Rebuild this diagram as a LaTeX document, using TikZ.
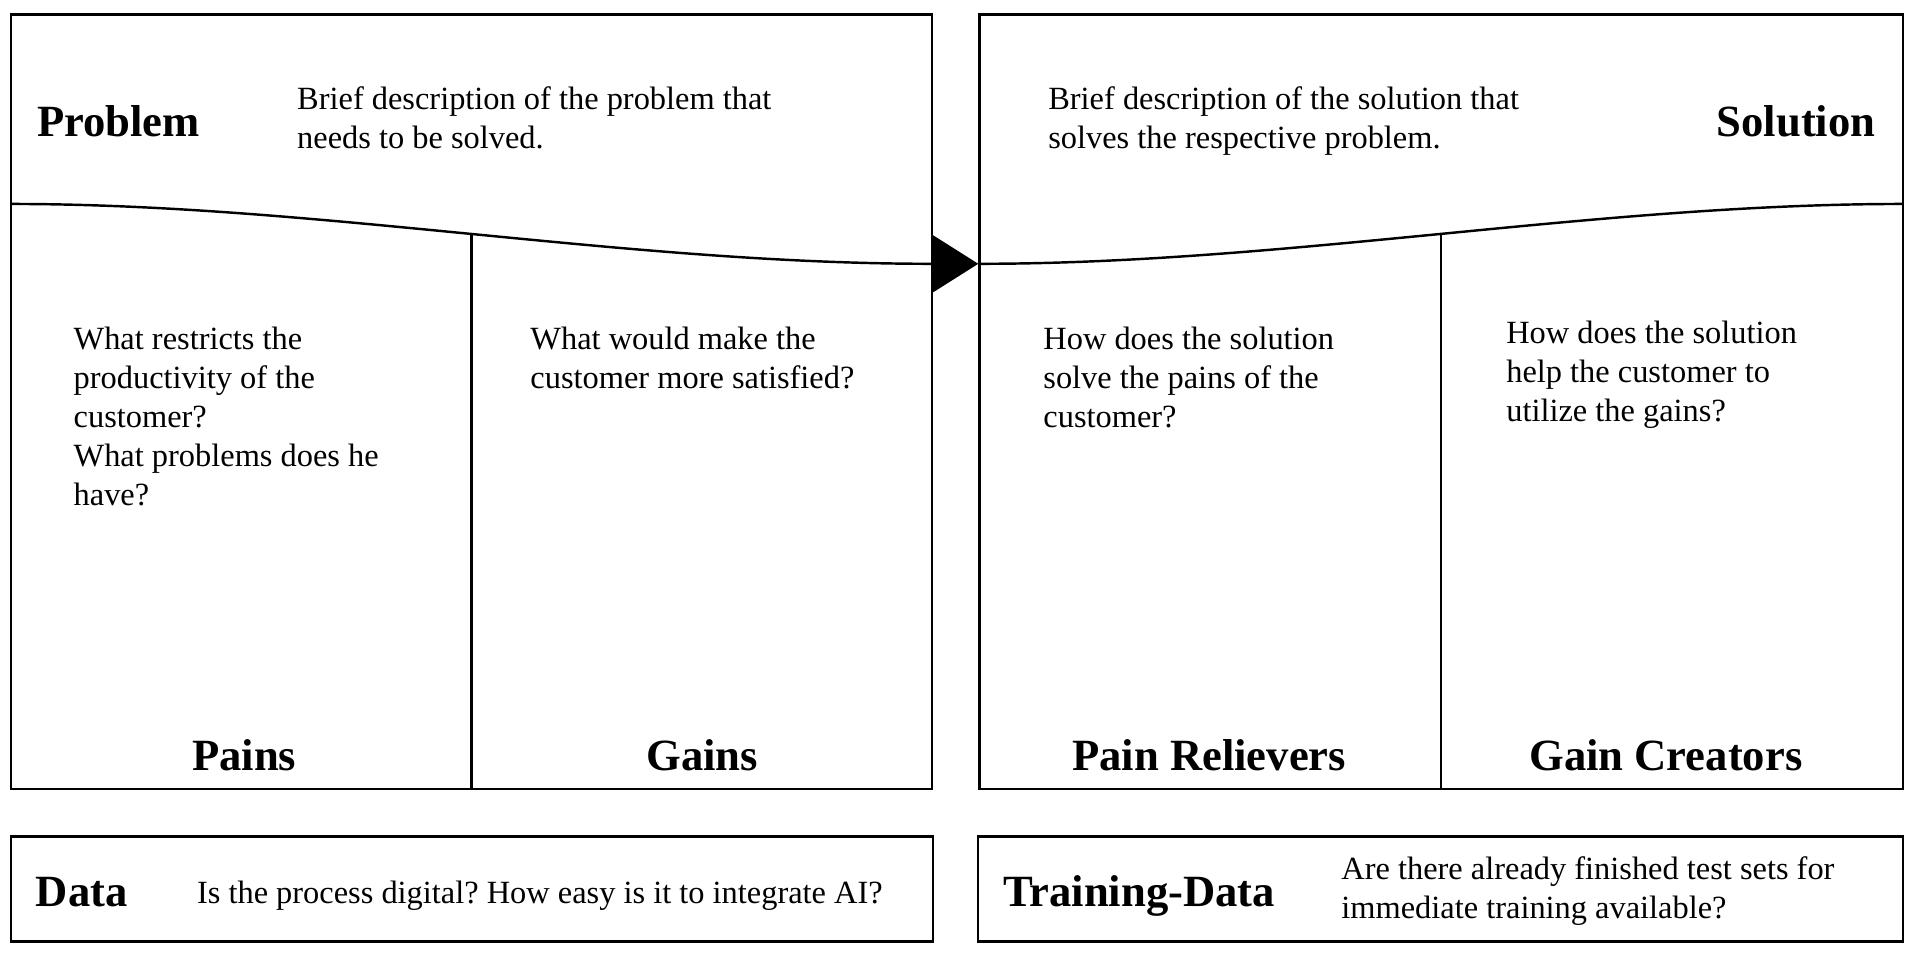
\documentclass[tikz,border=0pt]{standalone}
\usepackage{fontspec}
\setmainfont{Liberation Serif}
\frenchspacing
\tikzset{
  canvas/.style={line width=0.4mm},
  headline/.style={font=\fontsize{20.8}{25}\selectfont\bfseries, inner sep=0pt},
  question/.style={font=\fontsize{15.1}{18.2}\selectfont, align=left, inner sep=0pt, anchor=base west},
}

\begin{document}
\begin{tikzpicture}[x=0.02cm, y=-0.02cm]
		%%%%% START %%%%%
		\useasboundingbox (0, 0) rectangle (1568, 788.5);
		
		% problem side
		\draw[canvas] (9, 12) rectangle (763, 646);
		\draw[canvas] (9, 167) .. controls (260, 167) and (510, 216) .. (763, 216);
		\draw[canvas] (386, 191.5) -- (386, 646);
		
		% solution side
		\draw[canvas] (802, 12) rectangle (1558, 646);
		\draw[canvas] (802, 216) .. controls (1055, 216) and (1305, 167) .. (1558, 167);
		\draw[canvas] (1180, 191.5) -- (1180, 646);
		
		\fill (763, 192) -- (801, 216) -- (763, 240) -- cycle;
		
		% text nodes sit on the baseline of their last line
		\node[headline, anchor=base west] (problem) at (30, 112) {Problem};
		\node[question] (problemtext) at (243, 122) {Brief description of the problem that\\needs to be solved.};
		\node[headline, anchor=base east] (solution) at (1536, 112) {Solution};
		\node[question] (solutiontext) at (858, 122) {Brief description of the solution that\\solves the respective problem.};
		
		\node[question] (painstext) at (60, 414) {What restricts the\\productivity of the\\customer?\\What problems does he\\have?};
		\node[question] (gainstext) at (434, 318) {What would make the\\customer more satisfied?};
		\node[question] (relieverstext) at (854, 350) {How does the solution\\solve the pains of the\\customer?};
		\node[question] (creatorstext) at (1233, 345) {How does the solution\\help the customer to\\utilize the gains?};
		
		\node[headline, anchor=base] (pains) at (200, 630.5) {Pains};
		\node[headline, anchor=base] (gains) at (575, 630.5) {Gains};
		\node[headline, anchor=base] (relievers) at (990, 630.5) {Pain Relievers};
		\node[headline, anchor=base] (creators) at (1364, 630.5) {Gain Creators};
		
		% data boxes
		\draw[canvas] (9, 685) rectangle (764, 771);
		\node[headline, anchor=base west] (data) at (29, 742) {Data};
		\node[question] (datatext) at (161, 740) {Is the process digital? How easy is it to integrate AI?};
		
		\draw[canvas] (801, 685) rectangle (1558, 771);
		\node[headline, anchor=base west] (training) at (821, 742) {Training-Data};
		\node[question] (trainingtext) at (1098, 752) {Are there already finished test sets for\\immediate training available?};
		
		%%%%% END %%%%%
\end{tikzpicture}
\end{document}
